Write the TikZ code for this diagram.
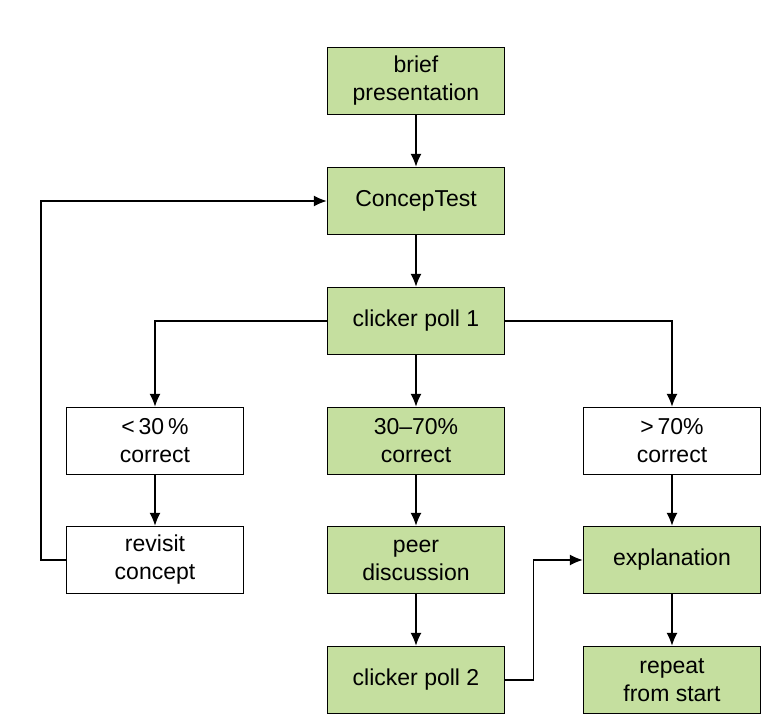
\documentclass[tikz,border=0pt]{standalone}
\usepackage{fontspec}
\setmainfont{Liberation Sans}
\usetikzlibrary{arrows.meta, positioning}
\definecolor{pollgreen}{RGB}{197,223,159}
\tikzset{
    stepGreen/.style={rectangle, draw, line width=0.7pt, fill=pollgreen, minimum width=88.5pt, minimum height=33.5pt, align=center, inner sep=1pt, font=\fontsize{11.5}{14}\selectfont},
    stepWhite/.style={stepGreen, fill=white},
    flowEdge/.style={->, >={Latex[length=6.5pt, width=5.5pt]}, line width=0.7pt},
}

\begin{document}
\begin{tikzpicture}[x=0.5pt, y=-0.5pt]
        \useasboundingbox (0,0) rectangle (766,727);

        \node[stepGreen] (brief) at (416,81) {brief\\presentation};
        \node[stepGreen] (concep) at (416,201) {ConcepTest};
        \node[stepGreen] (poll1) at (416,321) {clicker poll 1};
        \node[stepWhite] (low) at (155,441) {<\,30\,\%\\correct};
        \node[stepGreen] (mid) at (416,441) {30--70\%\\correct};
        \node[stepWhite] (high) at (672,441) {>\,70\%\\correct};
        \node[stepWhite] (revisit) at (155,560) {revisit\\concept};
        \node[stepGreen] (peer) at (416,560) {peer\\discussion};
        \node[stepGreen] (expl) at (672,560) {explanation};
        \node[stepGreen] (poll2) at (416,680) {clicker poll 2};
        \node[stepGreen] (repeat) at (672,680) {repeat\\from start};

        \draw[flowEdge] (brief) -- (concep);
        \draw[flowEdge] (concep) -- (poll1);
        \draw[flowEdge] (poll1) -- (mid);
        \draw[flowEdge] (poll1.west) -| (low);
        \draw[flowEdge] (poll1.east) -| (high);
        \draw[flowEdge] (low) -- (revisit);
        \draw[flowEdge] (mid) -- (peer);
        \draw[flowEdge] (high) -- (expl);
        \draw[flowEdge] (peer) -- (poll2);
        \draw[flowEdge] (expl) -- (repeat);
        \draw[flowEdge] (revisit.west) -- ++(-25,0) |- (concep.west);
        \draw[flowEdge] (poll2.east) -- ++(28,0) |- (expl.west);
    \end{tikzpicture}
\end{document}
